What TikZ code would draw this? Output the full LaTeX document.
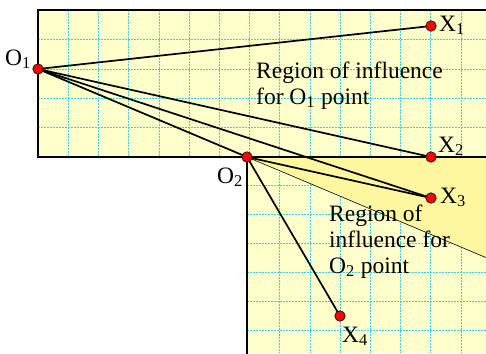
\documentclass[tikz,border=0pt]{standalone}
\usepackage{fontspec}
\setmainfont{Liberation Serif}
\definecolor{lightfill}{HTML}{FFFFCC}
\definecolor{darkfill}{HTML}{FFF7A0}
\definecolor{gridc}{HTML}{40CCE8}
\tikzset{
  border/.style={line width=2.8pt, line cap=rect},
  ray/.style={line width=1.7pt},
  thinray/.style={line width=0.6pt},
  gridline/.style={gridc, line width=0.6pt, dash pattern=on 2pt off 1pt},
  pt/.style={circle, fill=red, draw=black, line width=0.6pt, minimum size=10.5pt, inner sep=0pt},
  lbl/.style={font=\fontsize{23.5}{26}\selectfont, inner sep=0pt},
}
\begin{document}
\begin{tikzpicture}[x=1pt, y=-1pt]
\useasboundingbox (0,0) rectangle (486,353);
% fills
\fill[lightfill] (38,10) rectangle (486,157);
\fill[lightfill] (247,157) rectangle (486,353);
% grid
\begin{scope}
\clip (38,10) rectangle (486,157);
\foreach \i in {1,...,14} \draw[gridline] ({38+30.2*\i},10) -- ({38+30.2*\i},157);
\foreach \y in {39.4,68.8,98.2,127.6} \draw[gridline] (38,\y) -- (486,\y);
\end{scope}
\begin{scope}
\clip (247,157) rectangle (486,353);
\foreach \i in {8,...,14} \draw[gridline] ({38+30.2*\i},157) -- ({38+30.2*\i},353);
\foreach \y in {185,214,243,272,301,330} \draw[gridline] (247,\y) -- (486,\y);
\end{scope}
% points
\coordinate (O1) at (38,69);
\coordinate (O2) at (247,157);
\coordinate (X1) at (431,26);
\coordinate (X2) at (431,157);
\coordinate (X3) at (431,198);
\coordinate (X4) at (340,316);
\coordinate (E) at (486,257.6);
\coordinate (C) at (486,157);
% dark region
\fill[darkfill] (O2) -- (C) -- (E) -- cycle;
% borders
\draw[border] (486,10) -- (38,10) -- (38,157) -- (486,157);
\draw[border] (247,157) -- (247,353);
% rays
\draw[thinray] (O2) -- (E);
\draw[ray] (O1) -- (X1);
\draw[ray] (O1) -- (X2);
\draw[ray] (O1) -- (X3);
\draw[ray] (O1) -- (O2);
\draw[ray] (O2) -- (X3);
\draw[ray] (O2) -- (X4);
% dots
\node[pt] (pO1) at (O1) {};
\node[pt] (pO2) at (O2) {};
\node[pt] (pX1) at (X1) {};
\node[pt] (pX2) at (X2) {};
\node[pt] (pX3) at (X3) {};
\node[pt] (pX4) at (X4) {};
% labels
\node[lbl, anchor=base east] (lO1) at (31,65) {O\textsubscript{1}};
\node[lbl, anchor=base east] (lO2) at (243,183) {O\textsubscript{2}};
\node[lbl, anchor=base west] (lX1) at (439,31) {X\textsubscript{1}};
\node[lbl, anchor=base west] (lX2) at (438,152) {X\textsubscript{2}};
\node[lbl, anchor=base west] (lX3) at (440,203) {X\textsubscript{3}};
\node[lbl, anchor=base west] (lX4) at (342,342) {X\textsubscript{4}};
\node[lbl, anchor=base west] (r1a) at (256,78) {Region of influence};
\node[lbl, anchor=base west] (r1b) at (256,104) {for O\textsubscript{1} point};
\node[lbl, anchor=base west] (r2a) at (329,221) {Region of};
\node[lbl, anchor=base west] (r2b) at (329,247) {influence for};
\node[lbl, anchor=base west] (r2c) at (329,273) {O\textsubscript{2} point};
\end{tikzpicture}
\end{document}
